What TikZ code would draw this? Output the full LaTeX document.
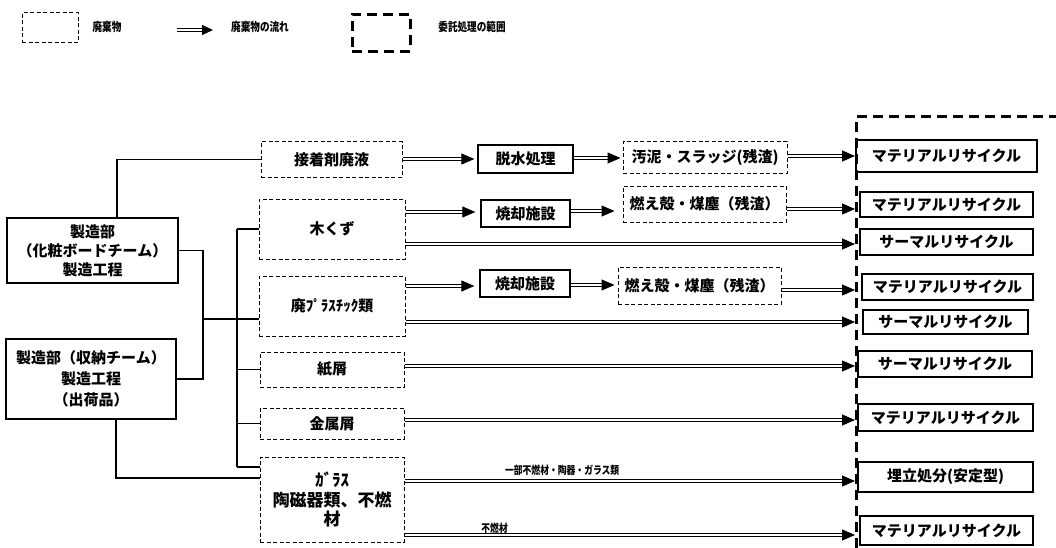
\documentclass[tikz,border=0pt]{standalone}
\usepackage{fontspec}
\newfontfamily\jp{Noto Sans CJK JP}
\newfontfamily\jpn{Noto Sans CJK JP}[FakeStretch=0.8]
\usetikzlibrary{arrows.meta}
\begin{document}
\begin{tikzpicture}[x=1pt,y=-1pt,
  waste/.style={draw, line width=1pt, dash pattern=on 4pt off 2.5pt, inner sep=0pt, align=center,
    font=\jp\bfseries\fontsize{15}{19}\selectfont},
  proc/.style={draw, line width=1.3pt, inner sep=0pt, align=center,
    font=\jp\bfseries\fontsize{15}{19}\selectfont},
  flow/.style={double, double distance=2pt, line width=1pt, -{Triangle[length=13pt,width=11pt]}},
  conn/.style={line width=1.1pt},
  outsrc/.style={line width=3pt, dash pattern=on 10pt off 6pt},
  legtext/.style={font=\jpn\bfseries\fontsize{12}{14}\selectfont, inner sep=0pt},
  small/.style={font=\jpn\bfseries\fontsize{11}{13}\selectfont, inner sep=0pt}
]
\useasboundingbox (0,0) rectangle (1056,548);

% ---------- legend ----------
\node[waste, minimum width=56pt, minimum height=30pt] (lgw) at (50,28) {};
\node[legtext] (lgwt) at (107,27) {廃棄物};
\coordinate (lfa) at (177,30);
\coordinate (lfb) at (213,30);
\draw[flow, -{Triangle[length=11pt,width=10pt]}] (lfa) -- (lfb);
\node[legtext] (lgft) at (260,27) {廃棄物の流れ};
\node[draw, outsrc, minimum width=58pt, minimum height=37pt, inner sep=0pt] (lgo) at (381,33) {};
\node[legtext] (lgot) at (472,27) {委託処理の範囲};

% ---------- outsourcing range ----------
\coordinate (oa) at (856,548);
\coordinate (ob) at (856,117);
\coordinate (oc) at (1056,117);
\draw[outsrc] (oa) -- (ob) -- (oc);

% ---------- sources ----------
\node[proc, minimum width=171pt, minimum height=65pt] (A) at (92.5,250.5)
  {製造部\\（化粧ボードチーム）\\製造工程};
\node[proc, minimum width=170pt, minimum height=80pt, font=\jp\bfseries\fontsize{15}{21}\selectfont] (B) at (91,379)
  {製造部（収納チーム）\\製造工程\\（出荷品）};

% ---------- waste boxes ----------
\node[waste, minimum width=141pt, minimum height=35pt] (setchaku) at (331.5,159.5) {接着剤廃液};
\node[waste, minimum width=146pt, minimum height=60pt] (kikuzu) at (332,229) {木くず};
\node[waste, minimum width=146pt, minimum height=60pt] (haipura) at (332,306) {廃ﾌﾟﾗｽﾁｯｸ類};
\node[waste, minimum width=144pt, minimum height=35pt] (kamikuzu) at (332,369.5) {紙屑};
\node[waste, minimum width=144pt, minimum height=31pt] (kinzoku) at (332,423.5) {金属屑};
\node[waste, minimum width=144pt, minimum height=85pt, font=\jp\bfseries\fontsize{17}{15}\selectfont] (garasu) at (332,499.5)
  {ｶﾞﾗｽ\\[3pt]陶磁器類、不燃\\[2pt]材};

% ---------- processing ----------
\node[proc, minimum width=95pt, minimum height=28pt] (dassui) at (525.5,159) {脱水処理};
\node[waste, minimum width=164pt, minimum height=31pt] (odei) at (705,157.5) {汚泥・スラッジ(残渣)};
\node[proc, minimum width=89pt, minimum height=27pt] (shok1) at (525.5,213.5) {焼却施設};
\node[waste, minimum width=163pt, minimum height=36pt] (moe1) at (704.5,204) {燃え殻・煤塵（残渣）};
\node[proc, minimum width=90pt, minimum height=27pt] (shok2) at (525,283.5) {焼却施設};
\node[waste, minimum width=163pt, minimum height=37pt] (moe2) at (699.5,285.5) {燃え殻・煤塵（残渣）};

% ---------- destinations ----------
\node[proc, minimum width=181pt, minimum height=32pt] (mat1) at (946.5,156) {マテリアルリサイクル};
\node[proc, minimum width=173pt, minimum height=25pt] (mat2) at (946.5,204.5) {マテリアルリサイクル};
\node[proc, minimum width=173pt, minimum height=26pt] (therm1) at (946.5,242) {サーマルリサイクル};
\node[proc, minimum width=171pt, minimum height=26pt] (mat3) at (947.5,287) {マテリアルリサイクル};
\node[proc, minimum width=165pt, minimum height=24pt] (therm2) at (945.5,322) {サーマルリサイクル};
\node[proc, minimum width=174pt, minimum height=26pt] (therm3) at (945,364) {サーマルリサイクル};
\node[proc, minimum width=175pt, minimum height=27pt] (mat4) at (945.5,417.5) {マテリアルリサイクル};
\node[proc, minimum width=175pt, minimum height=30pt] (umetate) at (945.5,477) {埋立処分(安定型)};
\node[proc, minimum width=173pt, minimum height=29pt] (mat5) at (946.5,530.5) {マテリアルリサイクル};

% ---------- tree connectors ----------
\coordinate (jA) at (203,0);
\coordinate (tr) at (237,0);
\coordinate (yh) at (0,319);
\coordinate (yg1) at (0,467);
\coordinate (yg2) at (0,478);
\draw[conn] ([xshift=24.5pt]A.north) |- (setchaku.west);
\draw[conn] (A.east) -| (jA |- B.east) -- (B.east);
\draw[conn] (jA |- yh) -- (haipura.west |- yh);
\draw[conn] (tr |- kikuzu.west) -- (tr |- yg1);
\draw[conn] (tr |- kikuzu.west) -- (kikuzu.west);
\draw[conn] (tr |- kamikuzu.west) -- (kamikuzu.west);
\draw[conn] (tr |- kinzoku.west) -- (kinzoku.west);
\draw[conn] (tr |- yg1) -- (garasu.west |- yg1);
\draw[conn] ([xshift=25pt]B.south) |- (garasu.west |- yg2);

% ---------- flow arrows ----------
\coordinate (r1a) at (0,159);
\coordinate (r1b) at (0,158);
\coordinate (r1c) at (0,156);
\coordinate (r2a) at (0,212);
\coordinate (r2b) at (0,211);
\coordinate (r2c) at (0,209);
\coordinate (r3) at (0,244);
\coordinate (r4a) at (0,286);
\coordinate (r4b) at (0,285);
\coordinate (r4c) at (0,290);
\coordinate (r5) at (0,322);
\coordinate (r6) at (0,366);
\coordinate (r7) at (0,420);
\coordinate (r8) at (0,481);
\coordinate (r9) at (0,535);
\coordinate (rx) at (855,0);

\draw[flow] (setchaku.east |- r1a) -- ([xshift=-3pt]dassui.west |- r1a);
\draw[flow] (dassui.east |- r1b) -- ([xshift=-2pt]odei.west |- r1b);
\draw[flow] (odei.east |- r1c) -- (rx |- r1c);
\draw[flow] (kikuzu.east |- r2a) -- ([xshift=-5pt]shok1.west |- r2a);
\draw[flow] (shok1.east |- r2b) -- ([xshift=-8pt]moe1.west |- r2b);
\draw[flow] (moe1.east |- r2c) -- (rx |- r2c);
\draw[flow] (kikuzu.east |- r3) -- (rx |- r3);
\draw[flow] (haipura.east |- r4a) -- ([xshift=-5pt]shok2.west |- r4a);
\draw[flow] (shok2.east |- r4b) -- ([xshift=-3pt]moe2.west |- r4b);
\draw[flow] (moe2.east |- r4c) -- (rx |- r4c);
\draw[flow] (haipura.east |- r5) -- (rx |- r5);
\draw[flow] (kamikuzu.east |- r6) -- (rx |- r6);
\draw[flow] (kinzoku.east |- r7) -- (rx |- r7);
\draw[flow] (garasu.east |- r8) -- node[small, above=5pt, pos=0.35] (lb1) {一部不燃材・陶器・ガラス類} (rx |- r8);
\draw[flow] (garasu.east |- r9) -- node[small, above=1pt, pos=0.2] (lb2) {不燃材} (rx |- r9);
\end{tikzpicture}
\end{document}
